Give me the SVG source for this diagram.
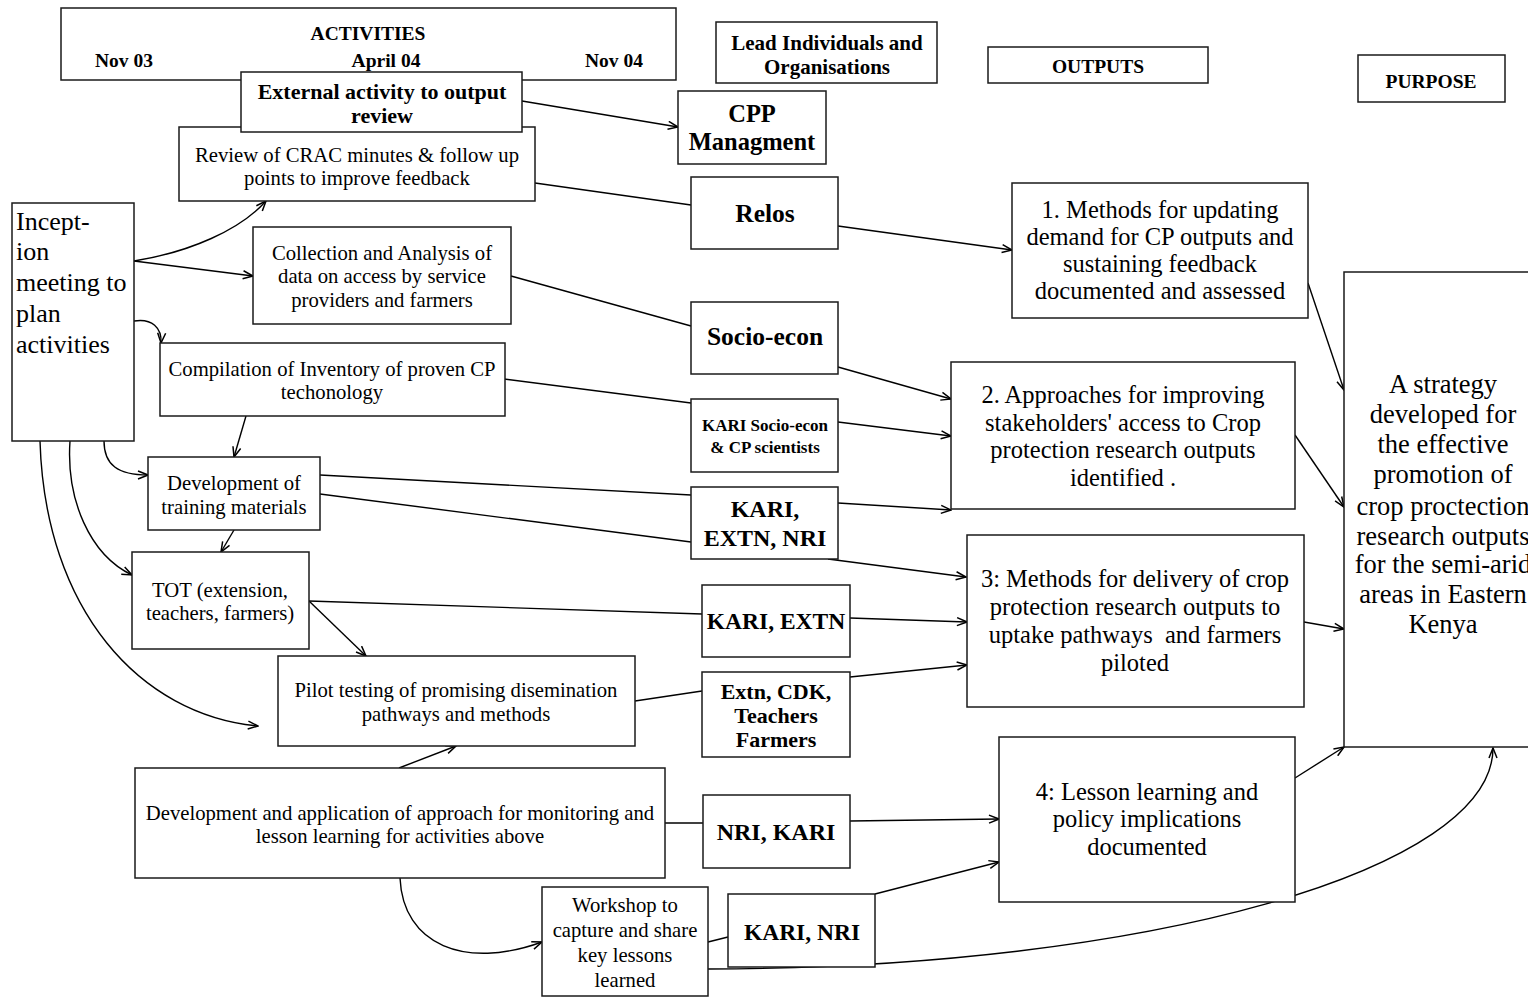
<svg xmlns="http://www.w3.org/2000/svg" width="1528" height="997" viewBox="0 0 1528 997">
  <style>
    .box { fill: #fff; stroke: #1a1a1a; stroke-width: 1.5; }
    .t { font-family: "Liberation Serif", "Times New Roman", serif; fill: #000; text-anchor: middle; }
    .b { font-weight: bold; }
    .hdr { font-size: 19.5px; }
    .act { font-size: 20.7px; }
    .org { font-size: 24.5px; }
    .out { font-size: 24.5px; }
    .conn { fill: none; stroke: #000; stroke-width: 1.4; }
  </style>
  <defs>
    <marker id="arr" viewBox="0 0 12 10" refX="11" refY="5" markerWidth="12" markerHeight="10" markerUnits="userSpaceOnUse" orient="auto">
      <path d="M1,1 L11,5 L1,9" fill="none" stroke="#000" stroke-width="1.5"/>
    </marker>
  </defs>

  <rect width="1528" height="997" fill="#fff"/>

  <!-- column headers -->
  <g id="hdr-activities">
    <rect class="box" x="61" y="8" width="615" height="72"/>
    <text class="t b hdr" x="368" y="40">ACTIVITIES</text>
    <text class="t b hdr" x="124" y="67">Nov 03</text>
    <text class="t b hdr" x="386" y="67">April 04</text>
    <text class="t b hdr" x="614" y="67">Nov 04</text>
  </g>
  <g id="hdr-lead">
    <rect class="box" x="716" y="22" width="221" height="61"/>
    <text class="t b" font-size="21" x="827" y="50">Lead Individuals and</text>
    <text class="t b" font-size="21" x="827" y="74">Organisations</text>
  </g>
  <g id="hdr-outputs">
    <rect class="box" x="988" y="47" width="220" height="36"/>
    <text class="t b hdr" x="1098" y="73">OUTPUTS</text>
  </g>
  <g id="hdr-purpose">
    <rect class="box" x="1358" y="55" width="147" height="47"/>
    <text class="t b hdr" x="1431" y="88">PURPOSE</text>
  </g>

  <!-- connectors -->
  <g id="connectors">
    <path class="conn" d="M522,101 L678,127" marker-end="url(#arr)"/>
    <path class="conn" d="M535,183 L691,205"/>
    <path class="conn" d="M838,226 L1012,250" marker-end="url(#arr)"/>
    <path class="conn" d="M511,276 L691,326"/>
    <path class="conn" d="M838,367 L951,399" marker-end="url(#arr)"/>
    <path class="conn" d="M504,379 L691,403"/>
    <path class="conn" d="M838,422 L951,436" marker-end="url(#arr)"/>
    <path class="conn" d="M320,475 L691,495"/>
    <path class="conn" d="M320,494 L691,542"/>
    <path class="conn" d="M838,503 L951,510" marker-end="url(#arr)"/>
    <path class="conn" d="M828,559 L966,577" marker-end="url(#arr)"/>
    <path class="conn" d="M309,601 L702,614"/>
    <path class="conn" d="M850,618 L967,622" marker-end="url(#arr)"/>
    <path class="conn" d="M635,701 L702,691"/>
    <path class="conn" d="M850,677 L967,665" marker-end="url(#arr)"/>
    <path class="conn" d="M665,823 L703,823"/>
    <path class="conn" d="M850,821 L999,819" marker-end="url(#arr)"/>
    <path class="conn" d="M708,942 L728,937"/>
    <path class="conn" d="M875,894 L999,862" marker-end="url(#arr)"/>
    <path class="conn" d="M708,969 C1150,968 1493,870 1493,748" marker-end="url(#arr)"/>
    <path class="conn" d="M1308,283 L1344,390" marker-end="url(#arr)"/>
    <path class="conn" d="M1295,435 L1344,507" marker-end="url(#arr)"/>
    <path class="conn" d="M1304,622 L1344,629" marker-end="url(#arr)"/>
    <path class="conn" d="M1295,778 L1344,747" marker-end="url(#arr)"/>
    <!-- activity sequence -->
    <path class="conn" d="M134,261 C190,252 240,230 266,201" marker-end="url(#arr)"/>
    <path class="conn" d="M134,261 L253,276" marker-end="url(#arr)"/>
    <path class="conn" d="M134,321 C152,318 162,328 161,343" marker-end="url(#arr)"/>
    <path class="conn" d="M246,416 L234,457" marker-end="url(#arr)"/>
    <path class="conn" d="M104,441 C104,465 118,475 148,475" marker-end="url(#arr)"/>
    <path class="conn" d="M234,530 L221,552" marker-end="url(#arr)"/>
    <path class="conn" d="M70,441 C66,500 90,555 132,575" marker-end="url(#arr)"/>
    <path class="conn" d="M40,441 C45,610 140,715 258,726" marker-end="url(#arr)"/>
    <path class="conn" d="M309,601 L366,656" marker-end="url(#arr)"/>
    <path class="conn" d="M399,768 L456,746" marker-end="url(#arr)"/>
    <path class="conn" d="M400,878 C403,945 465,970 542,942" marker-end="url(#arr)"/>
  </g>

  <!-- activities -->
  <g id="review-crac">
    <rect class="box" x="179" y="127" width="356" height="74"/>
    <text class="t act" x="357" y="162">Review of CRAC minutes &amp; follow up</text>
    <text class="t act" x="357" y="185">points to improve feedback</text>
  </g>
  <g id="external-review">
    <rect class="box" x="241" y="72" width="281" height="60"/>
    <text class="t b" font-size="22" x="382" y="99">External activity to output</text>
    <text class="t b" font-size="22" x="382" y="123">review</text>
  </g>
  <g id="inception">
    <rect class="box" x="12" y="203" width="122" height="238"/>
    <text class="t" font-size="26" text-anchor="start" style="text-anchor:start" x="16" y="230">Incept-</text>
    <text class="t" font-size="26" style="text-anchor:start" x="16" y="260">ion</text>
    <text class="t" font-size="26" style="text-anchor:start" x="16" y="291">meeting to</text>
    <text class="t" font-size="26" style="text-anchor:start" x="16" y="322">plan</text>
    <text class="t" font-size="26" style="text-anchor:start" x="16" y="353">activities</text>
  </g>
  <g id="collection">
    <rect class="box" x="253" y="227" width="258" height="97"/>
    <text class="t act" x="382" y="260">Collection and Analysis of</text>
    <text class="t act" x="382" y="283">data on access by service</text>
    <text class="t act" x="382" y="307">providers and farmers</text>
  </g>
  <g id="compilation">
    <rect class="box" x="160" y="343" width="345" height="73"/>
    <text class="t act" x="332" y="376">Compilation of Inventory of proven CP</text>
    <text class="t act" x="332" y="399">techonology</text>
  </g>
  <g id="training-materials">
    <rect class="box" x="148" y="457" width="172" height="73"/>
    <text class="t act" x="234" y="490">Development of</text>
    <text class="t act" x="234" y="514">training materials</text>
  </g>
  <g id="tot">
    <rect class="box" x="132" y="552" width="177" height="97"/>
    <text class="t act" x="220" y="597">TOT (extension,</text>
    <text class="t act" x="220" y="620">teachers, farmers)</text>
  </g>
  <g id="pilot-testing">
    <rect class="box" x="278" y="656" width="357" height="90"/>
    <text class="t act" x="456" y="697">Pilot testing of promising disemination</text>
    <text class="t act" x="456" y="721">pathways and methods</text>
  </g>
  <g id="monitoring">
    <rect class="box" x="135" y="768" width="530" height="110"/>
    <text class="t act" x="400" y="820">Development and application of approach for monitoring and</text>
    <text class="t act" x="400" y="843">lesson learning for activities above</text>
  </g>
  <g id="workshop">
    <rect class="box" x="542" y="887" width="166" height="109"/>
    <text class="t act" x="625" y="912">Workshop to</text>
    <text class="t act" x="625" y="937">capture and share</text>
    <text class="t act" x="625" y="962">key lessons</text>
    <text class="t act" x="625" y="987">learned</text>
  </g>

  <!-- lead individuals and organisations -->
  <g id="org-cpp">
    <rect class="box" x="678" y="91" width="148" height="73"/>
    <text class="t b org" x="752" y="122">CPP</text>
    <text class="t b org" x="752" y="150">Managment</text>
  </g>
  <g id="org-relos">
    <rect class="box" x="691" y="177" width="147" height="72"/>
    <text class="t b" font-size="25.5" x="765" y="222">Relos</text>
  </g>
  <g id="org-socio-econ">
    <rect class="box" x="691" y="302" width="147" height="72"/>
    <text class="t b" font-size="25.5" x="765" y="345">Socio-econ</text>
  </g>
  <g id="org-kari-socio">
    <rect class="box" x="691" y="399" width="147" height="73"/>
    <text class="t b" font-size="17" x="765" y="431">KARI Socio-econ</text>
    <text class="t b" font-size="17" x="765" y="453">&amp; CP scientists</text>
  </g>
  <g id="org-kari-extn-nri">
    <rect class="box" x="691" y="487" width="147" height="72"/>
    <text class="t b" font-size="24" x="765" y="517">KARI,</text>
    <text class="t b" font-size="24" x="765" y="546">EXTN, NRI</text>
  </g>
  <g id="org-kari-extn">
    <rect class="box" x="702" y="585" width="148" height="72"/>
    <text class="t b" font-size="23.5" x="776" y="629">KARI, EXTN</text>
  </g>
  <g id="org-extn-cdk">
    <rect class="box" x="702" y="672" width="148" height="85"/>
    <text class="t b" font-size="22" x="776" y="699">Extn, CDK,</text>
    <text class="t b" font-size="22" x="776" y="723">Teachers</text>
    <text class="t b" font-size="22" x="776" y="747">Farmers</text>
  </g>
  <g id="org-nri-kari">
    <rect class="box" x="703" y="795" width="147" height="73"/>
    <text class="t b" font-size="24" x="776" y="840">NRI, KARI</text>
  </g>
  <g id="org-kari-nri">
    <rect class="box" x="728" y="894" width="147" height="73"/>
    <text class="t b" font-size="23.5" x="802" y="940">KARI, NRI</text>
  </g>

  <!-- outputs -->
  <g id="output-1">
    <rect class="box" x="1012" y="183" width="296" height="135"/>
    <text class="t out" x="1160" y="218">1. Methods for updating</text>
    <text class="t out" x="1160" y="245">demand for CP outputs and</text>
    <text class="t out" x="1160" y="272">sustaining feedback</text>
    <text class="t out" x="1160" y="299">documented and assessed</text>
  </g>
  <g id="output-2">
    <rect class="box" x="951" y="362" width="344" height="147"/>
    <text class="t out" x="1123" y="403">2. Approaches for improving</text>
    <text class="t out" x="1123" y="431">stakeholders' access to Crop</text>
    <text class="t out" x="1123" y="458">protection research outputs</text>
    <text class="t out" x="1123" y="486">identified .</text>
  </g>
  <g id="output-3">
    <rect class="box" x="967" y="535" width="337" height="172"/>
    <text class="t out" x="1135" y="587">3: Methods for delivery of crop</text>
    <text class="t out" x="1135" y="615">protection research outputs to</text>
    <text class="t out" x="1135" y="643" xml:space="preserve">uptake pathways  and farmers</text>
    <text class="t out" x="1135" y="671">piloted</text>
  </g>
  <g id="output-4">
    <rect class="box" x="999" y="737" width="296" height="165"/>
    <text class="t out" x="1147" y="800">4: Lesson learning and</text>
    <text class="t out" x="1147" y="827">policy implications</text>
    <text class="t out" x="1147" y="855">documented</text>
  </g>

  <!-- purpose -->
  <g id="purpose">
    <rect class="box" x="1344" y="272" width="200" height="475"/>
    <text class="t" font-size="26.5" x="1443" y="393">A strategy</text>
    <text class="t" font-size="26.5" x="1443" y="423">developed for</text>
    <text class="t" font-size="26.5" x="1443" y="453">the effective</text>
    <text class="t" font-size="26.5" x="1443" y="483">promotion of</text>
    <text class="t" font-size="26.5" x="1443" y="515">crop proctection</text>
    <text class="t" font-size="26.5" x="1443" y="545">research outputs</text>
    <text class="t" font-size="26.5" x="1443" y="573">for the semi-arid</text>
    <text class="t" font-size="26.5" x="1443" y="603">areas in Eastern</text>
    <text class="t" font-size="26.5" x="1443" y="633">Kenya</text>
  </g>
</svg>
